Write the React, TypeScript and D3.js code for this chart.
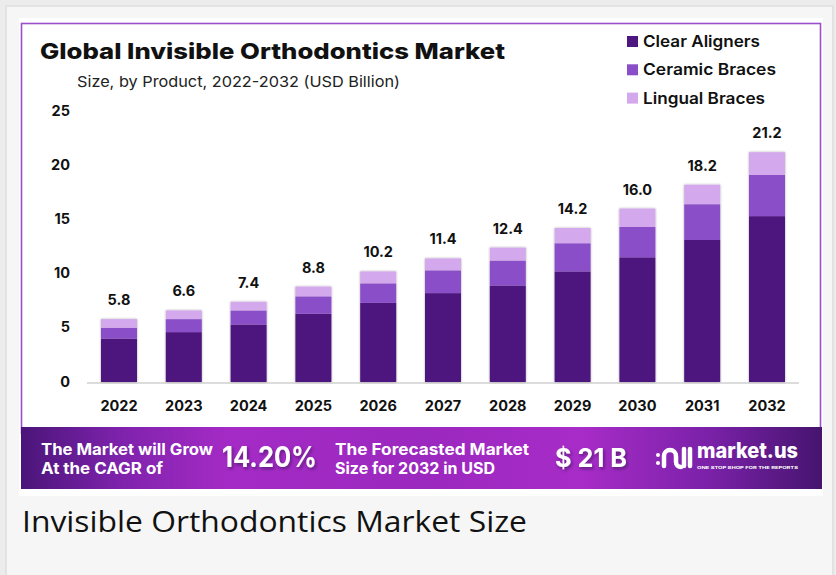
import React from 'react';
import * as d3 from 'd3';

const years = ['2022', '2023', '2024', '2025', '2026', '2027', '2028', '2029', '2030', '2031', '2032'];
const clearAligners = [4.0, 4.6, 5.3, 6.3, 7.3, 8.2, 8.9, 10.2, 11.5, 13.1, 15.3];
const ceramicBraces = [1.0, 1.2, 1.3, 1.6, 1.8, 2.1, 2.3, 2.6, 2.8, 3.3, 3.8];
const lingualBraces = [0.8, 0.8, 0.8, 0.9, 1.1, 1.1, 1.2, 1.4, 1.7, 1.8, 2.1];
const totalLabels = ['5.8', '6.6', '7.4', '8.8', '10.2', '11.4', '12.4', '14.2', '16.0', '18.2', '21.2'];
const yTicks = [0, 5, 10, 15, 20, 25];
const seriesNames = ['Clear Aligners', 'Ceramic Braces', 'Lingual Braces'];
const seriesColors = ['#4e167f', '#8a4fc8', '#d3a8ec'];
const legendWidths = [117, 133, 122];

const FONT = 'Inter, "Noto Sans", sans-serif';

export default function App() {
  const W = 836;
  const H = 575;
  const x = d3.scalePoint<string>().domain(years).range([119, 767]);
  const y = d3.scaleLinear().domain([0, 25]).range([382, 111]);
  const bw = 36;

  const rows = years.map((yr, i) => ({
    year: yr,
    'Clear Aligners': clearAligners[i],
    'Ceramic Braces': ceramicBraces[i],
    'Lingual Braces': lingualBraces[i],
  }));
  const stacked = d3.stack<any>().keys(seriesNames)(rows);

  return (
    <svg width={W} height={H} style={{ position: 'absolute', left: 0, top: 0 }} xmlns="http://www.w3.org/2000/svg">
      <defs>
        <linearGradient id="banner" x1="0" x2="1" y1="0" y2="0">
          <stop offset="0%" stopColor="#4a1579" />
          <stop offset="12%" stopColor="#7d22ab" />
          <stop offset="26%" stopColor="#a52bc6" />
          <stop offset="50%" stopColor="#9b28bf" />
          <stop offset="70%" stopColor="#a82cc8" />
          <stop offset="86%" stopColor="#7a21a8" />
          <stop offset="100%" stopColor="#46146f" />
        </linearGradient>
        <filter id="barShadow" x="-20%" y="-5%" width="140%" height="110%">
          <feDropShadow dx="0" dy="0" stdDeviation="1.2" floodColor="#000" floodOpacity="0.35" />
        </filter>
        <filter id="txtShadow" x="-10%" y="-20%" width="130%" height="160%">
          <feDropShadow dx="1.5" dy="2" stdDeviation="1.5" floodColor="#2a0a45" floodOpacity="0.55" />
        </filter>
      </defs>

      {/* page frame */}
      <rect x={0} y={0} width={W} height={H} fill="#ececec" />
      <rect x={6} y={6} width={827} height={H} fill="#f6f6f6" stroke="#e2e2e2" strokeWidth={2} />

      {/* white panel */}
      <rect x={19} y={18} width={804} height={478} fill="#ffffff" />
      <rect x={21.5} y={23.5} width={799} height={410} fill="none" stroke="#9b4fcc" strokeWidth={1.6} />

      {/* title */}
      <text x={40} y={59} fontFamily={FONT} fontWeight={800} fontSize={22} fill="#111" textLength={465} lengthAdjust="spacingAndGlyphs">
        Global Invisible Orthodontics Market
      </text>
      <text x={77} y={87} fontFamily={FONT} fontWeight={400} fontSize={15} fill="#222" textLength={323} lengthAdjust="spacingAndGlyphs">
        Size, by Product, 2022-2032 (USD Billion)
      </text>

      {/* legend */}
      {seriesNames.map((s, i) => (
        <g key={s} transform={`translate(627, ${41.5 + i * 28.3})`}>
          <rect x={0} y={-5.5} width={11} height={11} fill={seriesColors[i]} />
          <text x={16} y={5.5} fontFamily={FONT} fontWeight={600} fontSize={16} fill="#111" textLength={legendWidths[i]} lengthAdjust="spacingAndGlyphs">
            {s}
          </text>
        </g>
      ))}

      {/* y tick labels */}
      {yTicks.map((t) => (
        <text key={t} x={70} y={y(t) + 4.5} textAnchor="end" fontFamily={FONT} fontWeight={700} fontSize={14.5} fill="#111">
          {t}
        </text>
      ))}

      {/* baseline */}
      <line x1={87} x2={799} y1={383} y2={383} stroke="#dcdcdc" strokeWidth={2} />

      {/* bars */}
      {years.map((yr, i) => (
        <g key={yr} filter="url(#barShadow)">
          {stacked.map((layer, k) => {
            const d = layer[i];
            return (
              <rect
                key={k}
                x={(x(yr) as number) - bw / 2}
                y={y(d[1])}
                width={bw}
                height={y(d[0]) - y(d[1])}
                fill={seriesColors[k]}
              />
            );
          })}
        </g>
      ))}

      {/* total labels */}
      {years.map((yr, i) => (
        <text
          key={yr}
          x={x(yr) as number}
          y={y(stacked[2][i][1]) - 14}
          textAnchor="middle"
          fontFamily={FONT}
          fontWeight={700}
          fontSize={14.5}
          fill="#111"
        >
          {totalLabels[i]}
        </text>
      ))}

      {/* x labels */}
      {years.map((yr) => (
        <text key={yr} x={x(yr) as number} y={411} textAnchor="middle" fontFamily={FONT} fontWeight={700} fontSize={14.5} fill="#111">
          {yr}
        </text>
      ))}

      {/* banner */}
      <rect x={21} y={427} width={801} height={62} fill="url(#banner)" />
      <g fontFamily={FONT} fill="#ffffff" fontWeight={700}>
        <text x={41} y={455} fontSize={16} textLength={172} lengthAdjust="spacingAndGlyphs">The Market will Grow</text>
        <text x={41} y={474} fontSize={16} textLength={122} lengthAdjust="spacingAndGlyphs">At the CAGR of</text>
        <text x={222} y={467} fontSize={28} filter="url(#txtShadow)" textLength={95} lengthAdjust="spacingAndGlyphs">14.20%</text>
        <text x={335} y={455} fontSize={16} textLength={194} lengthAdjust="spacingAndGlyphs">The Forecasted Market</text>
        <text x={335} y={474} fontSize={16} textLength={160} lengthAdjust="spacingAndGlyphs">Size for 2032 in USD</text>
        <text x={555} y={467} fontSize={26} filter="url(#txtShadow)" textLength={72} lengthAdjust="spacingAndGlyphs">$ 21 B</text>
        {/* logo */}
        <g stroke="#ffffff" strokeWidth={4.5} strokeLinecap="round" fill="none">
          <circle cx={658} cy={455} r={2} fill="#ffffff" stroke="none" />
          <circle cx={658} cy={463} r={2} fill="#ffffff" stroke="none" />
          <path d="M 664 466 L 664 456 A 6 6 0 0 1 676 456 L 676 462 A 5 5 0 0 0 681 467" />
          <line x1={684} y1={449} x2={684} y2={466} />
          <line x1={690} y1={449} x2={690} y2={466} />
        </g>
        <text x={697} y={458} fontSize={21} fontWeight={800} textLength={101} lengthAdjust="spacingAndGlyphs">market.us</text>
        <text x={697} y={469} fontSize={4} fontWeight={700} textLength={101} lengthAdjust="spacingAndGlyphs">ONE STOP SHOP FOR THE REPORTS</text>
      </g>

      {/* caption */}
      <text x={22} y={532} fontFamily='"Open Sans", sans-serif' fontWeight={400} fontSize={30} fill="#111" textLength={505} lengthAdjust="spacingAndGlyphs">
        Invisible Orthodontics Market Size
      </text>
    </svg>
  );
}
